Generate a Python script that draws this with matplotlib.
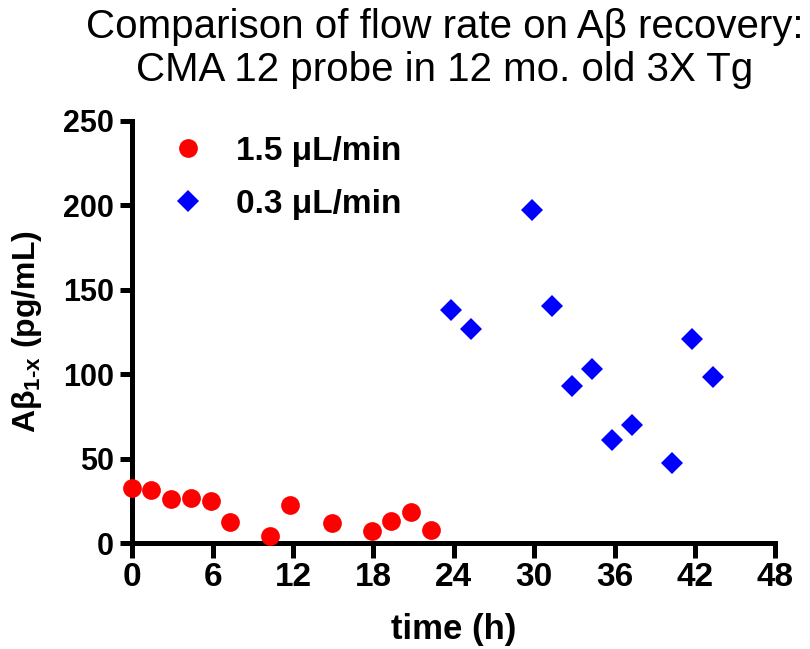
import matplotlib
matplotlib.use("Agg")
import matplotlib.pyplot as plt

plt.rcParams['font.family'] = ['Liberation Sans', 'DejaVu Sans']
plt.rcParams['mathtext.fontset'] = 'custom'
plt.rcParams['mathtext.rm'] = 'Liberation Sans'
plt.rcParams['mathtext.bf'] = 'Liberation Sans:bold'
plt.rcParams['mathtext.it'] = 'Liberation Sans:italic'

# Data
red_t = [0, 1.4, 2.9, 4.4, 5.9, 7.3, 10.3, 11.8, 14.9, 17.9, 19.3, 20.8, 22.3]
red_v = [32.4, 31.4, 25.9, 26.5, 25.0, 12.4, 4.1, 22.7, 11.7, 7.3, 12.8, 18.2, 7.7]
blue_t = [23.8, 25.3, 29.8, 31.3, 32.8, 34.3, 35.8, 37.3, 40.3, 41.8, 43.3]
blue_v = [138.1, 126.7, 197.0, 140.3, 93.0, 103.2, 60.8, 69.9, 47.5, 120.6, 98.3]
red_label = "1.5 μL/min"
blue_label = "0.3 μL/min"
x_ticks = [0, 6, 12, 18, 24, 30, 36, 42, 48]
y_ticks = [0, 50, 100, 150, 200, 250]
title_lines = ["Comparison of flow rate on Aβ recovery:", "CMA 12 probe in 12 mo. old 3X Tg"]

fig = plt.figure(figsize=(8.1, 6.49), dpi=100)
ax = fig.add_axes([0.1633, 0.1633, 0.7941, 0.6507])

ax.plot(red_t, red_v, linestyle='none', marker='o', markersize=13.5,
        color='#FF0000', markeredgewidth=0, clip_on=False, label=red_label, zorder=5)
ax.plot(blue_t, blue_v, linestyle='none', marker='D', markersize=11.5,
        color='#0000FF', markeredgewidth=0, clip_on=False, label=blue_label, zorder=5)

ax.set_xlim(0, 48)
ax.set_ylim(0, 250)
ax.set_xticks(x_ticks)
ax.set_yticks(y_ticks)
ax.set_xticklabels([str(v) for v in x_ticks], fontsize=24, fontweight='bold')
ax.set_yticklabels([str(v) for v in y_ticks], fontsize=22, fontweight='bold')

for s in ['top', 'right']:
    ax.spines[s].set_visible(False)
for s in ['left', 'bottom']:
    ax.spines[s].set_linewidth(3.6)
    ax.spines[s].set_capstyle('projecting')

ax.tick_params(axis='x', length=11, width=3.6, pad=3)
ax.tick_params(axis='y', length=9, width=3.6, pad=4)

ax.set_xlabel("time (h)", fontsize=25, fontweight='bold', labelpad=14)
ax.set_ylabel("Aβ$_{\\mathbf{1\u2010x}}$ (pg/mL)", fontsize=23, fontweight='bold')
ax.yaxis.set_label_coords(-0.138, 0.5)

leg = ax.legend(loc='upper left', bbox_to_anchor=(-0.002, 1.035), frameon=False,
                prop={'size': 24, 'weight': 'bold'}, handletextpad=0.65,
                labelspacing=0.66, handlelength=1.6)

fig.text(445 / 810, 1 - 38 / 649, title_lines[0], fontsize=29, ha='center', va='baseline')
fig.text(445 / 810, 1 - 81 / 649, title_lines[1], fontsize=29, ha='center', va='baseline')

fig.savefig("out.png", dpi=100)
